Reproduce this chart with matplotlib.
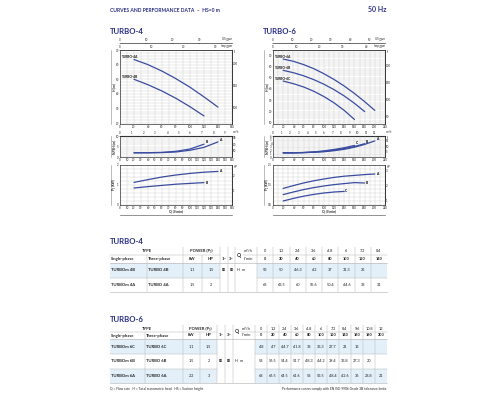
import numpy as np
import matplotlib
matplotlib.use('Agg')
import matplotlib.pyplot as plt
from matplotlib.patches import Rectangle
from matplotlib.transforms import offset_copy

plt.rcParams['font.family'] = ['Lato', 'DejaVu Sans']
plt.rcParams['axes.unicode_minus'] = False

W, H = 500, 400
NAVY = '#2a2f86'
CURVE = '#3a4c9f'
GRID = '#cdcdcd'
FILL = '#e3f0f9'
LINE = '#b8b8b8'
TXT = '#222222'
TS = 2.1   # tick label size

# ---------------- data ----------------
# TURBO-4 table
t4_q_lmin = [0, 20, 40, 60, 80, 100, 120, 140]
t4_q_m3h = ['0', '1.2', '2.4', '3.6', '4.8', '6', '7.2', '8.4']
t4_single = ['TURBOm 4B', 'TURBOm 4A']
t4_three = ['TURBO 4B', 'TURBO 4A']
t4_kw = ['1.1', '1.5']
t4_hp = ['1.5', '2']
t4b_head = [53, 50, 46.3, 42, 37, 31.3, 25]
t4a_head = [66, 63.5, 60, 55.6, 50.4, 44.6, 38, 31]
# TURBO-4 NPSH / P1 curves, Q in l/min
t4_curve_q = [20, 40, 60, 80, 100, 120, 140]
t4a_npsh = [2.0, 2.0, 2.1, 2.4, 3.2, 4.6, 7.2]
t4b_npsh = [2.0, 2.05, 2.2, 2.7, 3.8, 6.1]
t4a_p1 = [1.13, 1.27, 1.40, 1.50, 1.58, 1.64, 1.68]
t4b_p1 = [0.85, 0.92, 0.98, 1.04, 1.08, 1.12]

# TURBO-6 table
t6_q_lmin = [0, 20, 40, 60, 80, 100, 120, 140, 160, 180, 200]
t6_q_m3h = ['0', '1.2', '2.4', '3.6', '4.8', '6', '7.2', '8.4', '9.6', '10.8', '12']
t6_single = ['TURBOm 6C', 'TURBOm 6B', 'TURBOm 6A']
t6_three = ['TURBO 6C', 'TURBO 6B', 'TURBO 6A']
t6_kw = ['1.1', '1.5', '2.2']
t6_hp = ['1.5', '2', '3']
t6c_head = [48, 47, 44.7, 41.8, 38, 33.3, 27.7, 21, 13]
t6b_head = [58, 56.5, 54.4, 51.7, 48.3, 44.2, 39.4, 33.8, 27.3, 20]
t6a_head = [68, 66.5, 64.5, 61.6, 58, 53.5, 48.4, 42.6, 36, 28.8, 21]
# TURBO-6 NPSH / P1 curves
t6_curve_q = [20, 40, 60, 80, 100, 120, 140, 160, 180, 200]
t6a_npsh = [1.2, 1.2, 1.25, 1.35, 1.5, 1.8, 2.2, 2.8, 3.6, 4.6]
t6b_npsh = [1.2, 1.2, 1.25, 1.4, 1.6, 1.95, 2.4, 3.0, 3.8]
t6c_npsh = [1.2, 1.2, 1.3, 1.45, 1.75, 2.15, 2.65, 3.3]
t6a_p1 = [1.33, 1.47, 1.60, 1.71, 1.80, 1.88, 1.94, 1.98, 2.02, 2.05]
t6b_p1 = [1.02, 1.15, 1.27, 1.37, 1.45, 1.52, 1.57, 1.62, 1.60]
t6c_p1 = [0.70, 0.83, 0.94, 1.03, 1.10, 1.15, 1.18]

# ---------------- figure ----------------
fig = plt.figure(figsize=(5, 4), dpi=100)
ax0 = fig.add_axes([0, 0, 1, 1])
ax0.set_xlim(0, W)
ax0.set_ylim(H, 0)
ax0.axis('off')


def pax(x0, y0, x1, y1):
    return fig.add_axes([x0 / W, 1 - y1 / H, (x1 - x0) / W, (y1 - y0) / H])


def style(ax, xmax, xstep, ylim, yticks, yminor):
    ax.set_xlim(0, xmax)
    ax.set_ylim(*ylim)
    ax.set_xticks(np.arange(0, xmax + 1, xstep))
    ax.set_xticks(np.arange(0, xmax + 1, 10), minor=True)
    ax.set_yticks(yticks)
    ax.set_yticks(np.arange(yminor[0], yminor[1] + 1e-9, yminor[2]), minor=True)
    ax.grid(which='both', color=GRID, lw=0.3)
    ax.set_axisbelow(True)
    ax.tick_params(which='both', length=0, labelsize=TS, pad=0.8, colors=TXT)
    for s in ax.spines.values():
        s.set_linewidth(0.5)
        s.set_color('#333333')


def top_scale(ax, loc, f, finv, ticks, unit):
    s = ax.secondary_xaxis(loc, functions=(f, finv))
    s.set_xticks(ticks)
    s.tick_params(labelsize=TS, pad=0.5, length=1.0, width=0.3, direction='in', colors=TXT)
    for sp in s.spines.values():
        sp.set_linewidth(0.4)
    tr = offset_copy(ax.transAxes, fig=fig, x=0, y=1.6, units='dots')
    ax.text(1.0, loc, unit, transform=tr, fontsize=TS, ha='right', va='bottom', color=TXT)


def right_scale(ax, f, finv, ticks, unit):
    s = ax.secondary_yaxis('right', functions=(f, finv))
    s.set_yticks(ticks)
    s.tick_params(labelsize=TS, pad=0.8, length=0, colors=TXT)
    for sp in s.spines.values():
        sp.set_linewidth(0.5)
    tr = offset_copy(ax.transAxes, fig=fig, x=1.5, y=0, units='dots')
    ax.text(1.0, 1.0, unit, transform=tr, fontsize=TS, ha='left', va='top', color=TXT)


def ylab(x, y0, y1, text):
    ax0.plot([x - 3.5, x - 3.5], [y0, y1], color='#888888', lw=0.4)
    ax0.text(x, (y0 + y1) / 2, text, rotation=90, ha='center', va='center',
             fontsize=2.3, weight='bold', color=TXT)


def build(xl, xr, qmax, hstep, lowstep, h_ylim, h_ticks, n_ylim, n_ticks, n_minor,
          p_ylim, p_ticks, p_minor, us_ticks, imp_ticks, m3_ticks, ft_h, ft_n, hp_t,
          lmin, heads, names, cq, npsh, p1, letters):
    # H chart
    ax = pax(xl, 50, xr, 124)
    style(ax, qmax, hstep, h_ylim, h_ticks, (h_ylim[0] - h_ylim[0] % 2 + 2, h_ylim[1], 2))
    for h, nm in zip(heads, names):
        ax.plot(lmin[1:len(h)], h[1:], color=CURVE, lw=0.9, solid_capstyle='round')
        ax.text(3, h[1] + 0.4, nm, fontsize=2.3, weight='bold', ha='left', va='bottom', color='#111111')
    top_scale(ax, 1.0, lambda q: q / 4.5461, lambda g: g * 4.5461, imp_ticks, 'Imp gpm')
    top_scale(ax, 1.095, lambda q: q / 3.7854, lambda g: g * 3.7854, us_ticks, 'US gpm')
    right_scale(ax, lambda m: m * 3.2808, lambda f: f / 3.2808, ft_h, 'ft')
    ylab(xl - 6, 50, 124, 'H (m)')

    # NPSH chart
    axn = pax(xl, 136, xr, 157)
    style(axn, qmax, lowstep, n_ylim, n_ticks, (n_ylim[0], n_ylim[1], n_minor))
    for v, L in zip(npsh, letters):
        axn.plot(cq[:len(v)], v, color=CURVE, lw=0.9, solid_capstyle='round')
        axn.text(cq[len(v) - 1] + 2, v[-1], L, fontsize=2.4, weight='bold', ha='left', va='bottom')
    s = axn.secondary_xaxis('top', functions=(lambda q: q * 0.06, lambda m: m / 0.06))
    s.set_xticks(m3_ticks)
    s.tick_params(labelsize=TS, pad=0.5, length=1.0, width=0.3, direction='in', colors=TXT)
    axn.text(1.0, 1.0, 'm³/h', transform=offset_copy(axn.transAxes, fig=fig, x=0.5, y=1.6, units='dots'),
             fontsize=TS, ha='left', va='bottom', color=TXT)
    right_scale(axn, lambda m: m * 3.2808, lambda f: f / 3.2808, ft_n, 'ft')
    ylab(xl - 6, 136, 157, 'NPSH (m)')

    # P1 chart
    axp = pax(xl, 165, xr, 205)
    style(axp, qmax, lowstep, p_ylim, p_ticks, (p_ylim[0], p_ylim[1], p_minor))
    for v, L in zip(p1, letters):
        axp.plot(cq[:len(v)], v, color=CURVE, lw=0.9, solid_capstyle='round')
        axp.text(cq[len(v) - 1] + 2, v[-1], L, fontsize=2.4, weight='bold', ha='left', va='center')
    right_scale(axp, lambda k: k / 0.7457, lambda hp: hp * 0.7457, hp_t, 'HP')
    ylab(xl - 6, 165, 205, 'P₁ (kW)')

    ax0.text((xl + xr) / 2, 211.5, 'Q (l/min)', fontsize=2.5, weight='bold', ha='center', va='center', color=TXT)
    ax0.plot([xl, xr], [214.5, 214.5], color='#666666', lw=0.5)


build(120, 232, 160, 20, 10, (19.5, 70), [20, 30, 40, 50, 60, 70], (0, 10), [0, 5, 10], 1,
      (0, 2), [0, 1, 2], 0.2, [0, 10, 20, 30], [0, 10, 20, 30], list(range(0, 10)),
      [100, 150, 200], [10, 20, 30], [1, 2],
      t4_q_lmin, [t4b_head, t4a_head], ['TURBO-4B', 'TURBO-4A'], t4_curve_q,
      [t4a_npsh, t4b_npsh], [t4a_p1, t4b_p1], ['A', 'B'])

build(273, 385, 220, 20, 20, (9, 74.5), [10, 20, 30, 40, 50, 60, 70], (0, 6), [0, 1, 2, 3, 4, 5, 6], 0.5,
      (0.5, 2.5), [0.5, 1.5, 2.5], 0.2, [0, 10, 20, 30, 40, 50], [0, 10, 20, 30, 40], list(range(0, 13)),
      [50, 100, 150, 200], [5, 10, 15], [1, 2, 3],
      t6_q_lmin, [t6c_head, t6b_head, t6a_head], ['TURBO-6C', 'TURBO-6B', 'TURBO-6A'], t6_curve_q,
      [t6a_npsh, t6b_npsh, t6c_npsh], [t6a_p1, t6b_p1, t6c_p1], ['A', 'B', 'C'])

# ---------------- header texts ----------------
ax0.text(110, 10, 'CURVES AND PERFORMANCE DATA  –  HS=0 m', fontsize=3.6, weight='bold',
         color=NAVY, ha='left', va='center')
ax0.text(387, 10, '50 Hz', fontsize=5, weight='bold', color=NAVY, ha='right', va='center')
ax0.text(110, 32, 'TURBO-4', fontsize=5.6, weight='bold', color=NAVY, ha='left', va='center')
ax0.text(263, 32, 'TURBO-6', fontsize=5.6, weight='bold', color=NAVY, ha='left', va='center')


# ---------------- tables ----------------
def table(title, ty, fixed, xend, hy, ry, m3h, lmin, single, three, kw, hp, heads, filled, mid_y):
    x0, xt, xk, xh, x1, x3, xq, xv = fixed
    n = len(lmin)
    ve = np.linspace(xv, xend, n + 1)
    vc = (ve[:-1] + ve[1:]) / 2
    h0, h1, h2 = hy
    FS = 3.0
    VS = 2.8
    ax0.text(x0, ty, title, fontsize=5.6, weight='bold', color=NAVY, ha='left', va='center')
    for i, f in enumerate(filled):
        if f:
            ax0.add_patch(Rectangle((x0, ry[i]), x1 - x0, ry[i + 1] - ry[i], color=FILL, lw=0))
            ax0.add_patch(Rectangle((xv, ry[i]), xend - xv, ry[i + 1] - ry[i], color=FILL, lw=0))
    bottom = ry[-1]
    # horizontal lines
    ax0.plot([x0, x1], [h1, h1], color=LINE, lw=0.35)
    ax0.plot([xq + 8, xend], [h1, h1], color=LINE, lw=0.35)
    ax0.plot([x0, xend], [h2, h2], color=LINE, lw=0.45)
    for i, y in enumerate(ry[1:]):
        if i < len(ry) - 2:
            ax0.plot([x0, x1], [y, y], color=LINE, lw=0.35)
            ax0.plot([xv, xend], [y, y], color=LINE, lw=0.35)
        else:
            ax0.plot([x0, xend], [y, y], color=LINE, lw=0.45)
    # vertical lines
    for x in [xt, xh]:
        ax0.plot([x, x], [h1, bottom], color=LINE, lw=0.35)
    for x in [xk, x1, x3, xq]:
        ax0.plot([x, x], [h0, bottom], color=LINE, lw=0.35)
    for x in ve[:-1]:
        ax0.plot([x, x], [h0, bottom], color=LINE, lw=0.35)
    # header
    r1 = (h0 + h1) / 2
    r2 = (h1 + h2) / 2
    ax0.text((x0 + xk) / 2, r1, 'TYPE', fontsize=FS, weight='bold', ha='center', va='center', color=TXT)
    ax0.text((xk + x1) / 2, r1, 'POWER (P₁)', fontsize=FS, weight='bold', ha='center', va='center', color=TXT)
    ax0.text(x0 + 1, r2, 'Single-phase', fontsize=FS, weight='bold', ha='left', va='center', color=TXT)
    ax0.text(xt + 1, r2, 'Three-phase', fontsize=FS, weight='bold', ha='left', va='center', color=TXT)
    ax0.text((xk + xh) / 2, r2, 'kW', fontsize=FS, weight='bold', ha='center', va='center', color=TXT)
    ax0.text((xh + x1) / 2, r2, 'HP', fontsize=FS, weight='bold', ha='center', va='center', color=TXT)
    ax0.text((x1 + x3) / 2, r2, '1~', fontsize=FS, weight='bold', ha='center', va='center', color=TXT)
    ax0.text((x3 + xq) / 2, r2, '3~', fontsize=FS, weight='bold', ha='center', va='center', color=TXT)
    ax0.text(xq + 1.5, (h0 + h2) / 2, 'Q', fontsize=FS + 0.6, weight='bold', ha='left', va='center', color=TXT)
    ax0.text(xq + (xv - xq) * 0.6, r1, 'm³/h', fontsize=FS, ha='center', va='center', color=TXT)
    ax0.text(xq + (xv - xq) * 0.6, r2, 'l/min', fontsize=FS, ha='center', va='center', color=TXT)
    for c, a, b in zip(vc, m3h, lmin):
        ax0.text(c, r1, a, fontsize=VS, ha='center', va='center', color=TXT)
        ax0.text(c, r2, str(b), fontsize=VS, weight='bold', ha='center', va='center', color=TXT)
    # rows
    for i in range(len(single)):
        yc = (ry[i] + ry[i + 1]) / 2
        ax0.text(x0 + 1, yc, single[i], fontsize=FS, weight='bold', ha='left', va='center', color=TXT)
        ax0.text(xt + 1, yc, three[i], fontsize=FS, weight='bold', ha='left', va='center', color=TXT)
        ax0.text((xk + xh) / 2, yc, kw[i], fontsize=VS, ha='center', va='center', color=TXT)
        ax0.text((xh + x1) / 2, yc, hp[i], fontsize=VS, ha='center', va='center', color=TXT)
        for c, v in zip(vc, heads[i]):
            ax0.text(c, yc, f'{v:g}', fontsize=VS, ha='center', va='center', color=TXT)
    ax0.text((x1 + x3) / 2, mid_y, 'B2', fontsize=2.4, weight='bold', ha='center', va='center', color=TXT)
    ax0.text((x3 + xq) / 2, mid_y, 'B3', fontsize=2.4, weight='bold', ha='center', va='center', color=TXT)
    ax0.text(xq + 2, mid_y, 'H  m', fontsize=VS, ha='left', va='center', color=TXT)


table('TURBO-4', 242, [110, 147, 183, 202, 220, 228, 235, 257], 387, (247, 255, 263), [263, 277.5, 292],
      t4_q_m3h, t4_q_lmin, t4_single, t4_three, t4_kw, t4_hp, [t4b_head, t4a_head], [True, False], 270)

table('TURBO-6', 319, [110, 145, 183, 200, 217, 225, 233, 255], 387, (325, 332, 339), [339, 354, 369, 383],
      t6_q_m3h, t6_q_lmin, t6_single, t6_three, t6_kw, t6_hp, [t6c_head, t6b_head, t6a_head],
      [True, False, True], 361.5)

ax0.text(110, 389, 'Q = Flow rate   H = Total manometric head   HS = Suction height', fontsize=2.3,
         ha='left', va='center', color=TXT)
ax0.text(387, 389, 'Performance curves comply with EN ISO 9906 Grade 3B tolerance limits.', fontsize=2.3,
         ha='right', va='center', color=TXT)

fig.savefig('out.png', dpi=100)
